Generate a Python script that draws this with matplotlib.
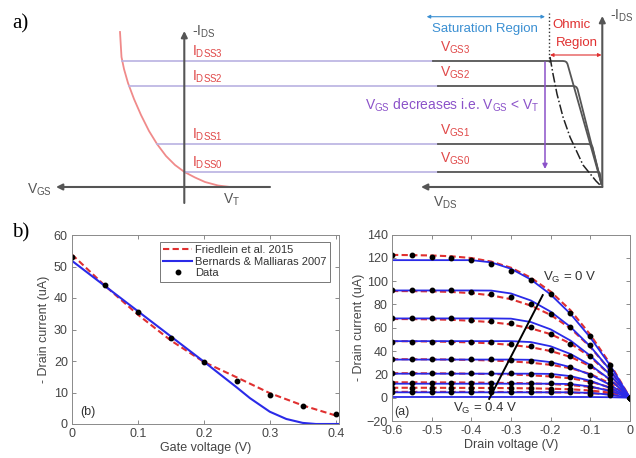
import numpy as np
import matplotlib
matplotlib.use('Agg')
import matplotlib.pyplot as plt

plt.rcParams['font.family'] = ['Liberation Sans', 'DejaVu Sans']
plt.rcParams['mathtext.fontset'] = 'custom'
plt.rcParams['mathtext.rm'] = 'Liberation Sans'
plt.rcParams['mathtext.it'] = 'Liberation Sans:italic'
plt.rcParams['mathtext.bf'] = 'Liberation Sans:bold'

# ---- schematic (a): levels in arbitrary current units, x in sketch units
idss_levels = [15, 43, 101, 126]            # I_DSS0 .. I_DSS3
idss_names = ['DSS0', 'DSS1', 'DSS2', 'DSS3']
vgs_names = ['GS0', 'GS1', 'GS2', 'GS3']
transfer_x = [120, 121.5, 124, 128, 134, 141, 149, 157, 166, 175, 184.5, 195, 205, 218, 230]
transfer_y = [155, 130, 118, 104, 88, 72, 56, 43, 31, 22, 15, 9.5, 5, 1.5, 0]
output_start = [438, 438, 438, 433]
output_knee = [598, 588, 573, 563]
locus_x = [550, 553, 557, 563, 570, 583, 596, 602]
locus_y = [130, 113, 93, 70, 50, 22, 6, 0]

# ---- transfer curve (b, left)
vg = [0, 0.05, 0.1, 0.15, 0.2, 0.25, 0.3, 0.35, 0.4]
id_transfer = [53.1, 44.2, 35.5, 27.3, 19.8, 13.8, 9.1, 5.6, 3.3]
friedlein_transfer = [53.8, 43.9, 34.7, 26.5, 19.7, 14.8, 9.8, 5.9, 2.7]
vg_bern = [0, 0.05, 0.1, 0.15, 0.2, 0.25, 0.27, 0.3, 0.325, 0.35, 0.37, 0.405]
bernards_transfer = [51.8, 43.8, 35.8, 27.8, 19.8, 11.6, 8.2, 3.9, 1.6, 0.35, 0, 0]

# ---- output curves (b, right), one row per gate voltage 0 .. 0.4 V
vd = [-0.6, -0.55, -0.5, -0.45, -0.4, -0.35, -0.3, -0.25, -0.2, -0.15, -0.1, -0.05, 0.0]
id_output = [
    [122, 122, 121, 120, 118, 115, 109, 101, 89, 73, 53, 28, 0],
    [92, 92, 92, 92, 91, 89, 86, 80, 72, 61, 45, 24, 0],
    [68, 68, 68, 68, 67, 66, 64.5, 61, 55, 46, 35.5, 20, 0],
    [48, 48, 48, 48, 48, 47.5, 46, 44, 41, 35.5, 27.3, 16, 0],
    [33, 33, 33, 33, 33, 33, 32.5, 31.5, 29.5, 26, 19.8, 12.5, 0],
    [21, 21, 21, 21, 21, 21, 21, 20.5, 19.5, 17.5, 13.8, 9.5, 0],
    [13, 13, 13, 13, 13, 13, 13, 13, 12.5, 11.5, 9.1, 6.5, 0],
    [8, 8, 8, 8, 8, 8, 8, 8, 7.8, 7.3, 5.6, 4.2, 0],
    [5, 5, 5, 5, 5, 5, 5, 5, 4.8, 4.5, 3.3, 2.3, 0],
]
friedlein_output = [
    [122.5, 122.3, 122, 121.3, 119.8, 116.8, 111.5, 103, 91, 75, 54, 29, 0],
    [91.5, 91.4, 91.2, 90.7, 89.7, 87.8, 84.5, 79, 71, 59.5, 43.5, 23.5, 0],
    [67.5, 67.4, 67.2, 66.8, 66, 64.8, 62.8, 59.5, 54.5, 46.5, 35, 19.5, 0],
    [48.5, 48.4, 48.2, 47.9, 47.4, 46.6, 45.3, 43.3, 40, 35, 27, 15.5, 0],
    [33, 33, 32.9, 32.7, 32.4, 31.9, 31.2, 30, 28.2, 25.3, 20.3, 12.2, 0],
    [21, 21, 20.9, 20.8, 20.6, 20.3, 19.9, 19.2, 18.2, 16.6, 13.8, 8.8, 0],
    [13.2, 13.2, 13.1, 13.1, 13, 12.8, 12.6, 12.3, 11.7, 10.8, 9.2, 6.2, 0],
    [8.5, 8.5, 8.5, 8.4, 8.4, 8.3, 8.2, 8, 7.7, 7.2, 6.2, 4.3, 0],
    [5, 5, 5, 5, 5, 4.9, 4.9, 4.8, 4.6, 4.4, 3.9, 2.8, 0],
]
bernards_output = [
    [118, 118, 118, 118, 118, 116.1, 110.6, 101.4, 88.5, 71.9, 51.6, 27.7, 0],
    [92, 92, 92, 92, 92, 91.9, 89.4, 83.4, 73.8, 60.7, 44, 23.7, 0],
    [68, 68, 68, 68, 68, 68, 67.8, 64.9, 58.6, 49, 36, 19.7, 0],
    [48.5, 48.5, 48.5, 48.5, 48.5, 48.5, 48.5, 47.7, 44.1, 37.5, 28, 15.5, 0],
    [32.7, 32.7, 32.7, 32.7, 32.7, 32.7, 32.7, 32.5, 30.5, 26.2, 19.7, 11, 0],
    [20.6, 20.6, 20.6, 20.6, 20.6, 20.6, 20.6, 20.6, 20.4, 18.5, 14.5, 8.3, 0],
    [12, 12, 12, 12, 12, 12, 12, 12, 12, 11.7, 9.6, 5.7, 0],
    [4.6, 4.6, 4.6, 4.6, 4.6, 4.6, 4.6, 4.6, 4.6, 4.6, 4.1, 2.6, 0],
    [0.6, 0.6, 0.6, 0.6, 0.6, 0.6, 0.6, 0.6, 0.6, 0.6, 0.58, 0.4, 0],
]

RED = '#e04848'
PINK = '#f08a8a'
LAV = '#b9b2e2'
DARK = '#555555'
SKYBLUE = '#3a8fd2'
PURPLE = '#8b52c9'
TXT = '#444444'
FRED = '#e03030'
BBLUE = '#2a2ae8'

fig = plt.figure(figsize=(6.36, 4.58), dpi=100)

# ================= (a) schematic =================
ax0 = fig.add_axes([0, 0.5415, 1, 0.4585])
ax0.set_xlim(0, 636)
ax0.set_ylim(-23, 187)
ax0.axis('off')


def arrow(ax, tail, tip, color, lw=1.5, style='-|>', ms=9):
    ax.annotate('', xy=tip, xytext=tail,
                arrowprops=dict(arrowstyle=style, color=color, lw=lw,
                                mutation_scale=ms, shrinkA=0, shrinkB=0))


# axes of the two sketches
arrow(ax0, (184.3, -16), (184.3, 156), DARK)
arrow(ax0, (270, 0), (56, 0), DARK)
arrow(ax0, (602.3, 0), (602.3, 171), DARK)
arrow(ax0, (602.3, 0), (421, 0), DARK)

# transfer characteristic
ax0.plot(transfer_x, transfer_y, color=PINK, lw=1.3)

tx_rev = transfer_x[::-1]
ty_rev = transfer_y[::-1]
for i, lev in enumerate(idss_levels):
    x0 = np.interp(lev, ty_rev, tx_rev)
    ax0.plot([x0, output_start[i]], [lev, lev], color=LAV, lw=1.2)
    # flat saturation part, rounded knee, then down into the origin
    k = output_knee[i]
    c = min(1.0, (602 - k) / 10)
    ax0.plot([output_start[i], k, k + 2 * c, k + 3.5 * c, k + 4.5 * c, 601.5],
             [lev, lev, lev - 0.3 * c, lev - 1.2 * c, lev - 3 * c, 3],
             color=DARK, lw=1.3)
    ax0.text(192, lev + 9, r'I$_\mathrm{%s}$' % idss_names[i],
             color=RED, fontsize=10, va='center', ha='left')
    ax0.text(440, lev + 13, r'V$_\mathrm{%s}$' % vgs_names[i],
             color=RED, fontsize=10, va='center', ha='left')

ax0.plot(locus_x, locus_y, color='#222222', lw=1.1, ls='-.')
ax0.plot([549.3, 549.3], [125, 174], color='#333333', lw=1.0, ls=':')

arrow(ax0, (545, 125), (545, 18), PURPLE, lw=1.1, ms=7)
ax0.text(452, 82, r'V$_\mathrm{GS}$ decreases i.e. V$_\mathrm{GS}$ < V$_\mathrm{T}$',
         color=PURPLE, fontsize=10, ha='center', va='center')

arrow(ax0, (426.7, 170.3), (545, 170.3), SKYBLUE, lw=0.8, style='<|-|>', ms=5)
ax0.text(485, 158, 'Saturation Region', color=SKYBLUE, fontsize=9.5,
         ha='center', va='center')
arrow(ax0, (550, 132), (601.5, 132), FRED, lw=0.8, style='<|-|>', ms=5)
ax0.text(552, 162, 'Ohmic', color=FRED, fontsize=9.5, ha='left', va='center')
ax0.text(556, 144, 'Region', color=FRED, fontsize=9.5, ha='left', va='center')

ax0.text(192, 155, r'-I$_\mathrm{DS}$', color=DARK, fontsize=10, va='center')
ax0.text(610, 171, r'-I$_\mathrm{DS}$', color=DARK, fontsize=10, va='center')
ax0.text(27, -3, r'V$_\mathrm{GS}$', color=DARK, fontsize=10, va='center')
ax0.text(223, -13, r'V$_\mathrm{T}$', color=DARK, fontsize=10, va='center')
ax0.text(433, -16, r'V$_\mathrm{DS}$', color=DARK, fontsize=10, va='center')

fig.text(12 / 636, 1 - 24 / 458, 'a)', family='Liberation Serif', fontsize=15,
         va='center', ha='left')
fig.text(12 / 636, 1 - 233 / 458, 'b)', family='Liberation Serif', fontsize=15,
         va='center', ha='left')


def matlab_style(ax):
    ax.tick_params(direction='in', top=True, right=True, length=3, width=0.6,
                   color='#777777', labelsize=9, labelcolor=TXT, pad=3)
    for s in ax.spines.values():
        s.set_color('#8a8a8a')
        s.set_linewidth(0.7)


# ================= (b) transfer =================
ax1 = fig.add_axes([72 / 636, 34 / 458, 267 / 636, 189 / 458])
ax1.plot(vg, friedlein_transfer, color=FRED, lw=1.5, ls=(0, (3, 1.6)),
         label='Friedlein et al. 2015')
ax1.plot(vg_bern, bernards_transfer, color=BBLUE, lw=1.5,
         label='Bernards & Malliaras 2007')
ax1.plot(vg, id_transfer, 'o', color='black', ms=3.2, label='Data')
ax1.set_xlim(0, 0.405)
ax1.set_ylim(0, 60)
ax1.set_xticks([0, 0.1, 0.2, 0.3, 0.4])
ax1.set_xticklabels(['0', '0.1', '0.2', '0.3', '0.4'])
ax1.set_yticks(range(0, 61, 10))
ax1.set_xlabel('Gate voltage (V)', fontsize=9, color=TXT, labelpad=1)
ax1.set_ylabel('- Drain current (uA)', fontsize=9, color=TXT, labelpad=3)
ax1.text(0.012, 3.8, '(b)', fontsize=9, color='#333333', va='center')
matlab_style(ax1)
leg = ax1.legend(loc='upper right', bbox_to_anchor=(0.967, 0.965), fontsize=8,
                 frameon=True, fancybox=False, handlelength=2.6,
                 labelspacing=0.15, borderpad=0.3, handletextpad=0.3,
                 borderaxespad=0)
leg.get_frame().set_edgecolor('#555555')
leg.get_frame().set_linewidth(0.7)
for t in leg.get_texts():
    t.set_color('#333333')

# ================= (b) output =================
ax2 = fig.add_axes([392 / 636, 37 / 458, 238 / 636, 186.5 / 458])
for row in friedlein_output:
    ax2.plot(vd, row, color=FRED, lw=1.5, ls=(0, (3, 1.6)))
for row in bernards_output:
    ax2.plot(vd, row, color=BBLUE, lw=1.3)
for row in id_output:
    ax2.plot(vd, row, 'o', color='black', ms=3.2)
ax2.plot([-0.355, -0.22], [-1, 88], color='black', lw=1.4)
ax2.text(-0.22, 103, r'V$_\mathrm{G}$ = 0 V', fontsize=9.5, color='#333333',
         va='center')
ax2.text(-0.447, -9.5, r'V$_\mathrm{G}$ = 0.4 V', fontsize=9.5, color='#333333',
         va='center')
ax2.text(-0.594, -12, '(a)', fontsize=9, color='#333333', va='center')
ax2.set_xlim(-0.6, 0)
ax2.set_ylim(-20, 140)
ax2.set_xticks([-0.6, -0.5, -0.4, -0.3, -0.2, -0.1, 0])
ax2.set_xticklabels(['-0.6', '-0.5', '-0.4', '-0.3', '-0.2', '-0.1', '0'])
ax2.set_yticks(range(-20, 141, 20))
ax2.set_xlabel('Drain voltage (V)', fontsize=9, color=TXT, labelpad=1)
ax2.set_ylabel('- Drain current (uA)', fontsize=9, color=TXT, labelpad=1)
matlab_style(ax2)

fig.savefig('out.png', dpi=100)
